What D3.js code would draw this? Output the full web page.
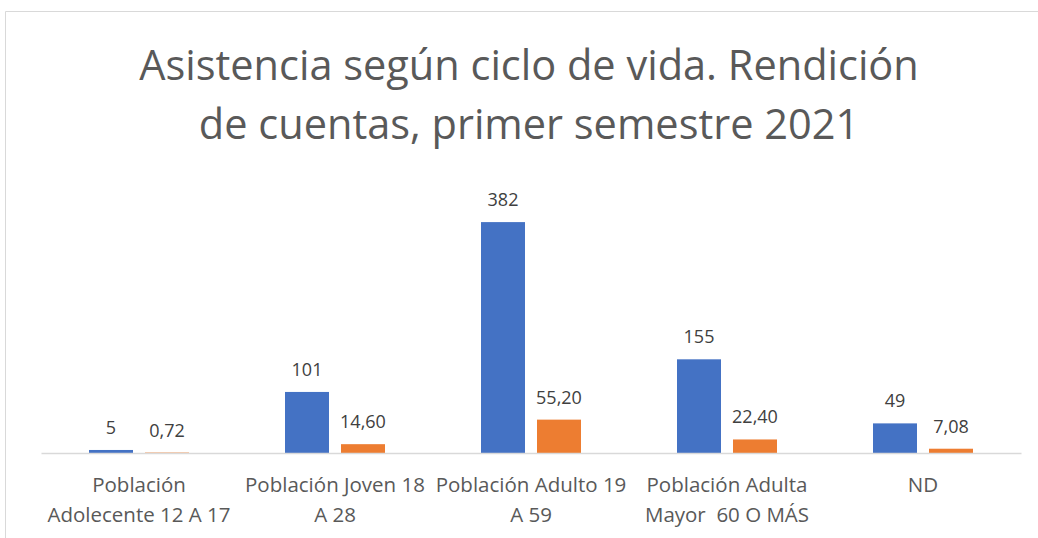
<!DOCTYPE html>
<html>
<head>
<meta charset="utf-8">
<script src="https://cdn.jsdelivr.net/npm/d3@7"></script>
<style>
  body { margin: 0; background: #fff; }
  text { font-family: "Open Sans", "Liberation Sans", sans-serif; }
</style>
</head>
<body>
<div id="chart"></div>
<script>
// Data
var categories = ["Población Adolecente 12 A 17", "Población Joven 18 A 28", "Población Adulto 19 A 59", "Población Adulta Mayor  60 O MÁS", "ND"];
var asistentes = [5, 101, 382, 155, 49];
var porcentaje = [0.72, 14.60, 55.20, 22.40, 7.08];
var titleLines = ["Asistencia según ciclo de vida. Rendición", "de cuentas, primer semestre 2021"];

var W = 1038, H = 538;
var colors = ["#4472C4", "#ED7D31"];

var svg = d3.select("#chart")
  .append("svg")
    .attr("width", W)
    .attr("height", H);

// chart area border (only top and left visible in the picture)
svg.append("path")
  .attr("d", "M5.5," + H + " V11.5 H" + W)
  .attr("fill", "none")
  .attr("stroke", "#d9d9d9")
  .attr("stroke-width", 1);

// title
svg.append("g").selectAll("text")
  .data(titleLines)
  .enter()
  .append("text")
    .attr("x", 529)
    .attr("y", function(d, i) { return 80 + i * 59; })
    .attr("text-anchor", "middle")
    .attr("font-size", "41.5px")
    .attr("fill", "#595959")
    .text(function(d) { return d; });

// scales
var x0 = d3.scaleBand()
  .domain(categories)
  .range([41, 1021]);

var x1 = d3.scaleBand()
  .domain([0, 1])
  .range([x0.bandwidth() / 2 - 50, x0.bandwidth() / 2 + 50])
  .paddingInner(0.2143);

var y = d3.scaleLinear()
  .domain([0, 450])
  .range([453, 181]);

var locale = d3.formatLocale({ decimal: ",", thousands: ".", grouping: [3], currency: ["$", ""] });
var fmtPct = locale.format(".2f");

var rows = categories.map(function(c, i) {
  return { cat: c, vals: [asistentes[i], porcentaje[i]] };
});

var groups = svg.selectAll(".grp")
  .data(rows)
  .enter()
  .append("g")
    .attr("class", "grp")
    .attr("transform", function(d) { return "translate(" + x0(d.cat) + ",0)"; });

groups.selectAll("rect")
  .data(function(d) { return d.vals; })
  .enter()
  .append("rect")
    .attr("x", function(d, i) { return x1(i); })
    .attr("y", function(d) { return y(d); })
    .attr("width", x1.bandwidth())
    .attr("height", function(d) { return y(0) - y(d); })
    .attr("fill", function(d, i) { return colors[i]; });

groups.selectAll(".lbl")
  .data(function(d) { return d.vals; })
  .enter()
  .append("text")
    .attr("class", "lbl")
    .attr("x", function(d, i) { return x1(i) + x1.bandwidth() / 2; })
    .attr("y", function(d) { return y(d) - 16; })
    .attr("text-anchor", "middle")
    .attr("font-size", "18px")
    .attr("fill", "#404040")
    .text(function(d, i) { return i === 0 ? d : fmtPct(d); });

// baseline
var xAxis = svg.append("g")
  .attr("transform", "translate(0," + y(0) + ")")
  .call(d3.axisBottom(x0).tickSize(0).tickPadding(0));
xAxis.select(".domain").attr("stroke", "#d9d9d9").attr("stroke-width", 1.5);
xAxis.selectAll(".tick text").remove();

// category labels, wrapped to the band width
xAxis.selectAll(".tick").append("text")
  .attr("fill", "#595959")
  .attr("font-size", "20.5px")
  .attr("text-anchor", "middle")
  .each(function(d) {
    var t = d3.select(this);
    var words = d.split(" ");
    var lines = [], line = "";
    var probe = t.append("tspan").style("white-space", "pre");
    words.forEach(function(w) {
      var test = line === "" ? w : line + " " + w;
      probe.text(test);
      if (probe.node().getComputedTextLength() > x0.bandwidth() && line !== "") {
        lines.push(line);
        line = w;
      } else {
        line = test;
      }
    });
    lines.push(line);
    probe.remove();
    lines.forEach(function(l, i) {
      t.append("tspan")
        .attr("x", 0)
        .attr("y", 39 + i * 30)
        .style("white-space", "pre")
        .text(l);
    });
  });
</script>
</body>
</html>
